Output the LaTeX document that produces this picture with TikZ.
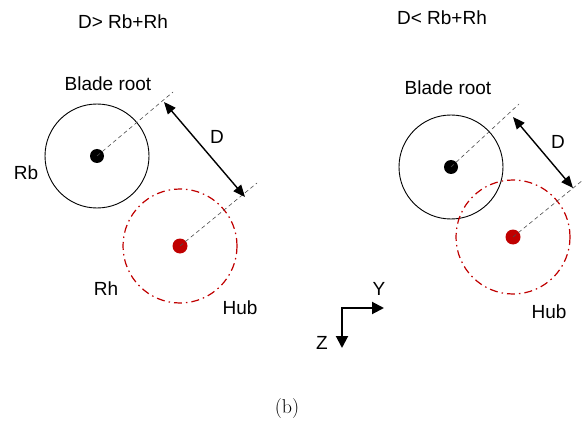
\documentclass[tikz,border=0pt]{standalone}
\usepackage{fontspec}
\setsansfont{Liberation Sans}
\usetikzlibrary{arrows.meta}
\definecolor{hubred}{RGB}{192,0,0}
\tikzset{
  lbl/.style={font=\sffamily\fontsize{19}{22}\selectfont, inner sep=0pt},
  bladecirc/.style={circle, draw=black, line width=0.9pt, minimum size=104pt, inner sep=0pt},
  hubcirc/.style={circle, draw=hubred, line width=1.2pt, minimum size=114pt, inner sep=0pt,
     dash pattern=on 8pt off 4pt on 1.5pt off 4pt},
  bdot/.style={circle, fill=black, minimum size=14pt, inner sep=0pt},
  rdot/.style={circle, fill=hubred, minimum size=15pt, inner sep=0pt},
  ext/.style={draw=black!70, line width=0.6pt, dash pattern=on 4pt off 3pt},
  dim/.style={line width=1.4pt, {Triangle[length=12pt,width=10pt]}-{Triangle[length=12pt,width=10pt]}},
  axis/.style={line width=2pt, -{Triangle[length=12pt,width=12pt]}}
}
\begin{document}
\begin{tikzpicture}[x=1pt,y=-1pt]
\useasboundingbox (0,0) rectangle (584,425);
% ---------- left ----------
\node[lbl] (t1) at (123,22) {D> Rb+Rh};
\node[bladecirc] (bc1) at (97,156) {};
\node[hubcirc] (hc1) at (180,246) {};
\node[bdot] (bd1) at (97,156) {};
\node[rdot] (rd1) at (180,246) {};
\coordinate (be1) at (173,92);
\coordinate (he1) at (257,183);
\draw[ext] (bd1.center) -- (be1);
\draw[ext] (rd1.center) -- (he1);
\coordinate (da1) at (164,102);
\coordinate (db1) at (245,197);
\draw[dim] (da1) -- (db1);
\node[lbl] (d1) at (217,137) {D};
\node[lbl] (br1) at (108,84) {Blade root};
\node[lbl] (rb1) at (26,173) {Rb};
\node[lbl] (rh1) at (106,289) {Rh};
\node[lbl] (hub1) at (240,308) {Hub};
% ---------- right ----------
\node[lbl] (t2) at (442,18) {D< Rb+Rh};
\node[bladecirc] (bc2) at (451,167) {};
\node[hubcirc] (hc2) at (513,237) {};
\node[bdot] (bd2) at (451,167) {};
\node[rdot] (rd2) at (513,237) {};
\coordinate (be2) at (519,104);
\coordinate (he2) at (583,180);
\draw[ext] (bd2.center) -- (be2);
\draw[ext] (rd2.center) -- (he2);
\coordinate (da2) at (513,117);
\coordinate (db2) at (573,188);
\draw[dim] (da2) -- (db2);
\node[lbl] (d2) at (558,142) {D};
\node[lbl] (br2) at (448,88) {Blade root};
\node[lbl] (hub2) at (549,312) {Hub};
% ---------- axes ----------
\coordinate (o) at (342,308);
\coordinate (yt) at (384,308);
\coordinate (zt) at (342,348);
\draw[axis] ([xshift=-1pt]o) -- (yt);
\draw[axis] (o) -- (zt);
\node[lbl] (ylab) at (379,289) {Y};
\node[lbl] (zlab) at (322,343) {Z};
% ---------- caption ----------
\node[font=\fontsize{20}{24}\selectfont, inner sep=0pt] (cap) at (287,409) {(b)};
\end{tikzpicture}
\end{document}
